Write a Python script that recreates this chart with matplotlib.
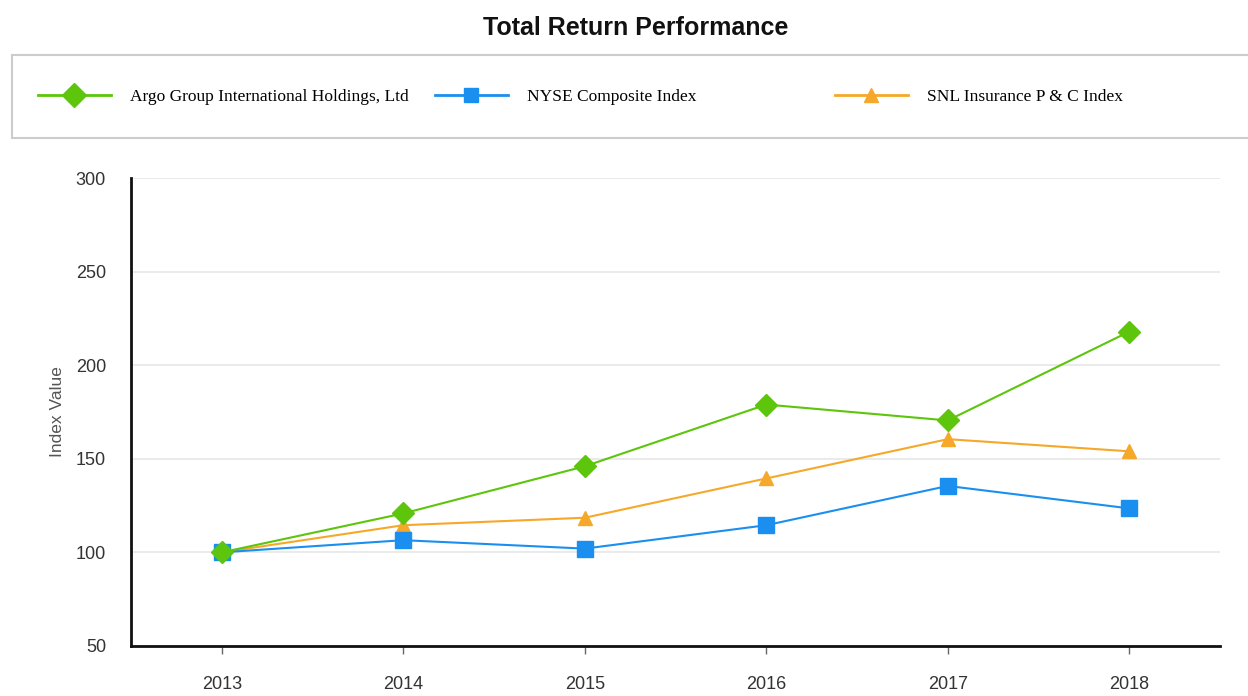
import matplotlib.pyplot as plt
from matplotlib.patches import Rectangle
from matplotlib.lines import Line2D

# data
years = ["2013", "2014", "2015", "2016", "2017", "2018"]
argo = [100, 120.8, 146, 179, 170.5, 218]
nyse = [100, 106.5, 102, 114.5, 135.5, 123.5]
snl = [100, 114.5, 118.5, 139.5, 160.5, 154]
series_names = ["Argo Group International Holdings, Ltd", "NYSE Composite Index",
                "SNL Insurance P & C Index"]
y_ticks = [50, 100, 150, 200, 250, 300]

col_green = "#5cc50c"
col_blue = "#1a8ff0"
col_orange = "#f5a82a"

fig = plt.figure(figsize=(12.48, 6.96), dpi=100)
ax = fig.add_axes([0.105, 0.072, 0.8726, 0.672])

x = range(len(years))
ax.plot(x, snl, color=col_orange, lw=1.5, marker="^", ms=10, zorder=3)
ax.plot(x, nyse, color=col_blue, lw=1.5, marker="s", ms=11, zorder=4)
ax.plot(x, argo, color=col_green, lw=1.5, marker="D", ms=11, zorder=5)

ax.set_xlim(-0.5, len(years) - 0.5)
ax.set_ylim(50, 300)
ax.set_xticks(list(x))
ax.set_xticklabels(years, fontsize=13, color="#333333", family="Liberation Sans")
ax.set_yticks(y_ticks)
ax.set_yticklabels([str(v) for v in y_ticks], fontsize=13, color="#333333",
                   family="Liberation Sans")
ax.tick_params(axis="x", length=6, width=1, color="#666666", pad=16)
ax.tick_params(axis="y", length=0, pad=18)
for v in y_ticks[1:]:
    ax.axhline(v, color="#e6e6e6", lw=1.2, zorder=1)
for s in ["top", "right"]:
    ax.spines[s].set_visible(False)
for s in ["left", "bottom"]:
    ax.spines[s].set_linewidth(2)
    ax.spines[s].set_color("#111111")
ax.set_ylabel("Index Value", fontsize=12.5, color="#555555", family="Liberation Sans",
              labelpad=8)

fig.text(0.509, 0.96, "Total Return Performance", ha="center", va="center",
         fontsize=18, fontweight="bold", family="Liberation Sans", color="#111111")

# legend box
fig.patches.append(Rectangle((12 / 1248, 1 - 138 / 696), 1.0, 83 / 696,
                             transform=fig.transFigure, facecolor="white",
                             edgecolor="#cccccc", lw=1.5, zorder=0))
handles = [
    Line2D([], [], color=col_green, lw=2, marker="D", ms=12),
    Line2D([], [], color=col_blue, lw=2, marker="s", ms=10),
    Line2D([], [], color=col_orange, lw=2, marker="^", ms=10),
]
starts = [38 / 1248, 435 / 1248, 835 / 1248]
for h, name, sx in zip(handles, series_names, starts):
    fig.legend([h], [name], loc="center left", bbox_to_anchor=(sx, 1 - 97 / 696),
               frameon=False, handlelength=4.2, handletextpad=1.1,
               prop={"family": "Liberation Serif", "size": 12.5}, borderaxespad=0,
               borderpad=0)

fig.savefig("out.png", dpi=100)
